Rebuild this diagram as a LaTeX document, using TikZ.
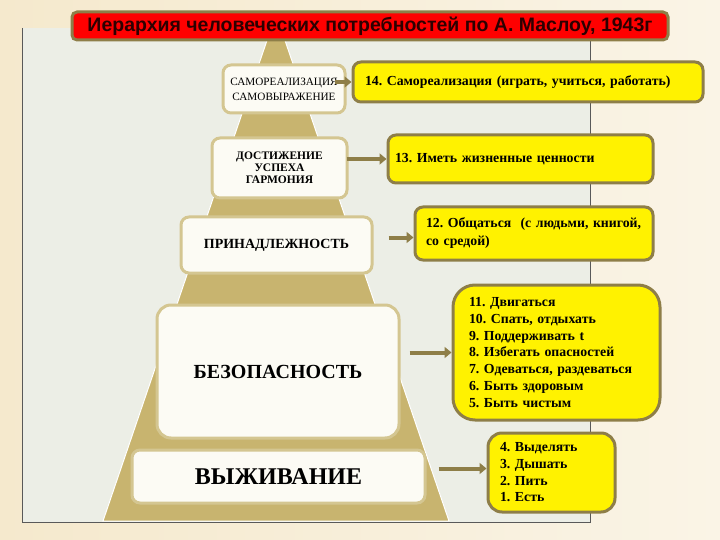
\documentclass[tikz,border=0pt]{standalone}
\usepackage{fontspec}
\setmainfont{Liberation Serif}
\newfontfamily\headfont{Liberation Sans}
\usetikzlibrary{positioning}
\usetikzlibrary{arrows.meta}
\definecolor{creambg}{RGB}{245,233,205}
\definecolor{creamlt}{RGB}{250,244,230}
\definecolor{panelbg}{RGB}{236,238,230}
\definecolor{pyrtan}{RGB}{200,180,111}
\definecolor{boxtan}{RGB}{212,198,145}
\definecolor{boxfill}{RGB}{252,251,244}
\definecolor{olive}{RGB}{142,126,72}
\definecolor{titletext}{RGB}{45,0,0}
\tikzstyle{line} = [draw, olive, line width=4pt, -{Triangle[length=7pt,width=11pt]}]
\frenchspacing

\begin{document}
\begin{tikzpicture}[x=1pt,y=-1pt,
		level/.style={draw=boxtan, line width=3pt, fill=boxfill,
		rounded corners=8pt, align=center, inner sep=0pt},
		need/.style={draw=olive, line width=3pt, fill=yellow,
		rounded corners=8pt, align=left, inner ysep=0pt,
		font=\bfseries\fontsize{13.8}{16.7}\selectfont},
		title/.style={draw=olive, line width=3pt, fill=red,
		rounded corners=5pt, text=titletext,
		font=\headfont\bfseries\fontsize{19.5}{19.5}\selectfont}]
		\useasboundingbox (0,0) rectangle (720,540);
		%% Background
		\shade [left color=creambg, right color=creamlt] (0,0) rectangle (720,540);
		\fill [panelbg] (22,28) rectangle (590,522);
		\draw [gray!70!black, line width=0.8pt] (22,28) -- (22,522) -- (590,522) -- (590,28);
		%% Pyramid
		\fill [pyrtan, draw=white, line width=1pt] (103,521) -- (276,14) -- (449,521) -- cycle;
		\node [title, minimum width=596, minimum height=28] (T) at (370,26)
			{Иерархия человеческих потребностей по А. Маслоу, 1943г};
		%% Levels
		\node [level, minimum width=122, minimum height=48,
			font=\fontsize{11.2}{15}\selectfont] (S1) at (284,89)
			{САМОРЕАЛИЗАЦИЯ\\САМОВЫРАЖЕНИЕ};
		\node [level, minimum width=135, minimum height=60,
			font=\bfseries\fontsize{11.5}{12}\selectfont] (S2) at (279.5,168)
			{ДОСТИЖЕНИЕ\\УСПЕХА\\ГАРМОНИЯ};
		\node [level, minimum width=191, minimum height=56,
			font=\bfseries\fontsize{14}{16}\selectfont] (S3) at (276.5,245)
			{ПРИНАДЛЕЖНОСТЬ};
		\node [level, minimum width=242, minimum height=133, rounded corners=14pt,
			font=\bfseries\fontsize{20}{21}\selectfont] (S4) at (278,371.5)
			{БЕЗОПАСНОСТЬ};
		\node [level, minimum width=293, minimum height=53,
			font=\bfseries\fontsize{24}{26}\selectfont] (S5) at (278.5,476.5)
			{ВЫЖИВАНИЕ};
		%% Needs
		\node [need, minimum width=350, minimum height=40, inner xsep=12,
			text width=326] (N14) at (528,82)
			{14. Самореализация (играть, учиться, работать)};
		\node [need, minimum width=265, minimum height=48, inner xsep=7,
			text width=251] (N13) at (520.5,159)
			{13. Иметь жизненные ценности};
		\node [need, minimum width=238, minimum height=53, inner xsep=11,
			text width=216, font=\bfseries\fontsize{13.8}{18}\selectfont] (N12) at (534,233.5)
			{12. Общаться~ (с людьми, книгой,\\со средой)};
		\node [need, minimum width=207, minimum height=135, inner xsep=16,
			rounded corners=22pt, text width=175] (N11) at (556.5,352.5)
			{11. Двигаться\\10. Спать, отдыхать\\9. Поддерживать t\\8. Избегать опасностей\\
			7. Одеваться, раздеваться\\6. Быть здоровым\\5. Быть чистым};
		\node [need, minimum width=127, minimum height=79, inner xsep=12,
			rounded corners=14pt, text width=103] (N4) at (551.5,472.5)
			{4. Выделять\\3. Дышать\\2. Пить\\1. Есть};
		%% Arrows
		\path [line] (S1.east |- N14.west) ++(-12,0) -- (N14.west);
		\path [line] (S2.east |- N13.west) ++(-2,0) -- (N13.west);
		\path [line] (S3.east |- N12.west) ++(15,4) -- ([yshift=-4pt]N12.west);
		\path [line] (S4.east |- N11.west) ++(9,0) -- (N11.west);
		\path [line] (S5.east |- N4.west) ++(12,-4) -- ([yshift=4pt]N4.west);
	\end{tikzpicture}
\end{document}
